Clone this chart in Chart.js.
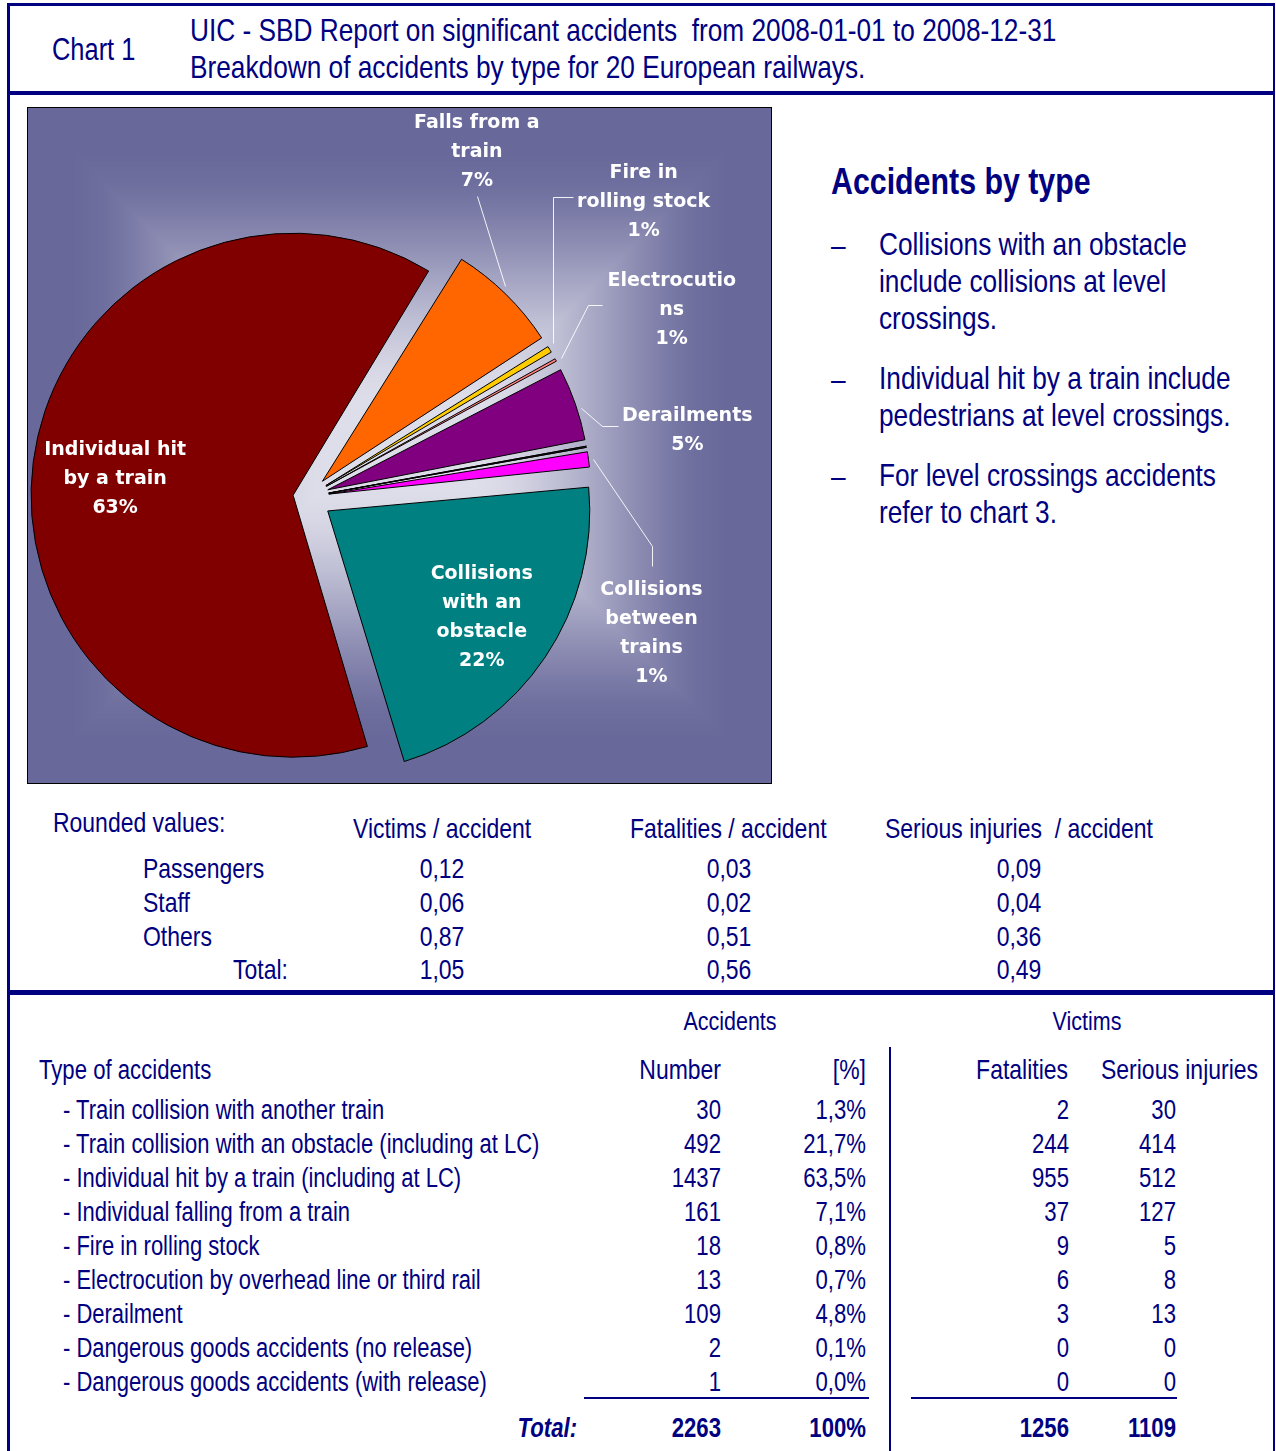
<!DOCTYPE html>
<html lang="en">
<head>
  <meta charset="UTF-8" />
  <title>Chart 1 – Accidents by type, 2008</title>
  <script src="https://cdn.jsdelivr.net/npm/chart.js"></script>
  <style>
    body { margin:0; width:1276px; height:1451px; position:relative; overflow:hidden; background:#fff; color:#000080; }
    .txt { position:absolute; white-space:pre; line-height:1; }
    .bar { position:absolute; background:#000080; }
    #plot { position:absolute; left:27px; top:107px; width:743px; height:675px; border:1px solid #000; }
    #plot canvas { display:block; }
  </style>
</head>
<body>

<div class="bar" style="left:7px;top:3px;width:1268px;height:3px"></div>
<div class="bar" style="left:7px;top:3px;width:3px;height:1448px"></div>
<div class="bar" style="left:1273px;top:3px;width:2px;height:1448px"></div>
<div class="bar" style="left:7px;top:91px;width:1268px;height:4px"></div>
<div class="bar" style="left:7px;top:990px;width:1268px;height:5px"></div>
<div class="bar" style="left:889px;top:1047px;width:2px;height:404px"></div>
<div class="bar" style="left:584px;top:1397px;width:285px;height:2px"></div>
<div class="bar" style="left:911px;top:1397px;width:266px;height:2px"></div>

<div id="plot"><canvas id="pie" width="743" height="675"></canvas></div>

<script>
// pie: accidents by type (same order as the table)
const pieLabels = [
  ['Collisions', 'between', 'trains'],
  ['Collisions', 'with an', 'obstacle'],
  ['Individual hit', 'by a train'],
  ['Falls from a', 'train'],
  ['Fire in', 'rolling stock'],
  ['Electrocutio', 'ns'],
  ['Derailments'],
  [],
  []
];
const accidentTypes = [
  'Train collision with another train',
  'Train collision with an obstacle (including at LC)',
  'Individual hit by a train (including at LC)',
  'Individual falling from a train',
  'Fire in rolling stock',
  'Electrocution by overhead line or third rail',
  'Derailment',
  'Dangerous goods accidents (no release)',
  'Dangerous goods accidents (with release)'
];
const accidentNumbers = [30, 492, 1437, 161, 18, 13, 109, 2, 1];
const accidentPercent = [1.3, 21.7, 63.5, 7.1, 0.8, 0.7, 4.8, 0.1, 0.0];
const fatalities      = [2, 244, 955, 37, 9, 6, 3, 0, 0];
const seriousInjuries = [30, 414, 512, 127, 5, 8, 13, 0, 0];

// rounded values per accident
const roundedGroups   = ['Passengers', 'Staff', 'Others'];
const victimsPerAcc   = [0.12, 0.06, 0.87];
const fatalPerAcc     = [0.03, 0.02, 0.51];
const injuredPerAcc   = [0.09, 0.04, 0.36];
const perAccTotals    = [1.05, 0.56, 0.49];

const notes = [
  ['Collisions with an obstacle', 'include collisions at level', 'crossings.'],
  ['Individual hit by a train include', 'pedestrians at level crossings.'],
  ['For level crossings accidents', 'refer to chart 3.']
];

const sliceColors  = ['#FF00FF', '#008080', '#800000', '#FF6600', '#FFCC00', '#FF8080', '#800080', '#000080', '#333333'];
const sliceOffsets = [88, 100, 56, 88, 88, 88, 88, 88, 88];
const PIE_RADIUS = 262;

// where each pie label sits: inside = relative to slice tip, else relative to arc midpoint
const labelLayout = [
  { dx: 63,   dy: 174,  leader: [[5, 0], [64, 87], [64, 107]] },
  { inside: true, dx: 154, dy: 107 },
  { inside: true, dx: -178, dy: -16 },
  { dx: -29,  dy: -142, leader: [[-1, -8], [-29, -98]] },
  { dx: 94,   dy: -147, leader: [[3, -6], [3, -152], [23, -152]] },
  { dx: 116,  dy: -50,  leader: [[5, -2], [32, -55], [46, -55]] },
  { dx: 112,  dy: 27,   leader: [[6, 4], [27, 22], [43, 22]] },
  null, null
];

// ---- text helpers ----
let narrowOK = true;
(function () {
  const c = document.createElement('canvas').getContext('2d');
  c.font = '40px "Liberation Sans Narrow", monospace';
  const a = c.measureText('Breakdown of accidents').width;
  c.font = '40px monospace';
  const b = c.measureText('Breakdown of accidents').width;
  narrowOK = Math.abs(a - b) > 0.5;
})();

function put(text, x, y, size, align, extra) {
  const d = document.createElement('div');
  d.className = 'txt';
  d.textContent = text;
  d.style.fontFamily = narrowOK ? '"Liberation Sans Narrow", "Arial Narrow", sans-serif' : '"Liberation Sans", Arial, sans-serif';
  d.style.fontSize = size + 'px';
  d.style.top = y + 'px';
  if (align === 'r') { d.style.left = (x - 700) + 'px'; d.style.width = '700px'; d.style.textAlign = 'right'; }
  else if (align === 'c') { d.style.left = (x - 350) + 'px'; d.style.width = '700px'; d.style.textAlign = 'center'; }
  else d.style.left = x + 'px';
  d.style.transformOrigin = (align === 'r' ? 'right' : align === 'c' ? 'center' : 'left') + ' center';
  d.style.transform = narrowOK ? 'translateY(-50%)' : 'translateY(-50%) scaleX(0.82)';
  if (extra) Object.assign(d.style, extra);
  document.body.appendChild(d);
}
const comma = (v, n) => v.toFixed(n).replace('.', ',');
const sum = a => a.reduce((s, v) => s + v, 0);

// header
put('Chart 1', 52, 49, 31);
put('UIC - SBD Report on significant accidents  from 2008-01-01 to 2008-12-31', 190, 30, 32);
put('Breakdown of accidents by type for 20 European railways.', 190, 67, 32);

// notes on the right
put('Accidents by type', 831, 181, 37, 'l', { fontWeight: 'bold' });
let ny = 244;
notes.forEach(lines => {
  put('–', 831, ny + 1, 32);
  lines.forEach((s, k) => put(s, 879, ny + k * 37, 32));
  ny += lines.length * 37 + 23;
});

// rounded values
put('Rounded values:', 53, 823, 28);
put('Victims / accident', 353, 829, 28);
put('Fatalities / accident', 630, 829, 28);
put('Serious injuries  / accident', 885, 829, 28);
roundedGroups.forEach((g, i) => {
  const y = 869 + i * 34;
  put(g, 143, y, 28);
  put(comma(victimsPerAcc[i], 2), 442, y, 28, 'c');
  put(comma(fatalPerAcc[i], 2), 729, y, 28, 'c');
  put(comma(injuredPerAcc[i], 2), 1019, y, 28, 'c');
});
put('Total:', 288, 970, 28, 'r');
perAccTotals.forEach((v, k) => put(comma(v, 2), [442, 729, 1019][k], 970, 28, 'c'));

// table
put('Accidents', 730, 1021, 26.2, 'c');
put('Victims', 1087, 1021, 26.2, 'c');
put('Type of accidents', 39, 1070, 27);
put('Number', 721, 1070, 28, 'r');
put('[%]', 866, 1070, 28, 'r');
put('Fatalities', 1068, 1070, 28, 'r');
put('Serious injuries', 1258, 1070, 28, 'r');
accidentTypes.forEach((t, i) => {
  const y = 1110 + i * 34;
  put('- ' + t, 63, y, 26.8);
  put(String(accidentNumbers[i]), 721, y, 27, 'r');
  put(comma(accidentPercent[i], 1) + '%', 866, y, 27, 'r');
  put(String(fatalities[i]), 1069, y, 27, 'r');
  put(String(seriousInjuries[i]), 1176, y, 27, 'r');
});
const bold = { fontWeight: 'bold' };
put('Total:', 577, 1428, 27, 'r', { fontWeight: 'bold', fontStyle: 'italic' });
put(String(sum(accidentNumbers)), 721, 1428, 27, 'r', bold);
put('100%', 866, 1428, 27, 'r', bold);
put(String(sum(fatalities)), 1069, 1428, 27, 'r', bold);
put(String(sum(seriousInjuries)), 1176, 1428, 27, 'r', bold);

// ---- chart ----
const plotBackground = {
  id: 'plotBackground',
  beforeDraw(chart) {
    const { ctx, width, height } = chart;
    const half = Math.ceil(Math.min(width, height) / 2);
    const edge = [104, 104, 154], mid = [222, 222, 234];
    ctx.save();
    for (let k = 0; k <= half; k++) {
      let t = Math.min(1, Math.max(0, (k - 35) / (half - 70)));
      t = t * t * (3 - 2 * t);
      const c = edge.map((e, j) => Math.round(e + (mid[j] - e) * t));
      ctx.fillStyle = `rgb(${c[0]},${c[1]},${c[2]})`;
      ctx.fillRect(k, k, width - 2 * k, height - 2 * k);
    }
    ctx.restore();
  }
};

// Chart.js grows exploded slices; keep every slice at the same radius
const keepRadius = {
  id: 'keepRadius',
  beforeDatasetsDraw(chart) {
    chart.getDatasetMeta(0).data.forEach(arc => {
      const off = (arc.options.offset || 0) / 4;
      const fix = 1 - Math.sin(Math.min(Math.PI, arc.circumference));
      arc.outerRadius = PIE_RADIUS - off * fix;
    });
  }
};

const total = sum(accidentNumbers);
const sliceLabels = {
  id: 'sliceLabels',
  afterDatasetsDraw(chart) {
    const ctx = chart.ctx;
    ctx.save();
    ctx.font = 'bold 19px "DejaVu Sans", Verdana, sans-serif';
    ctx.fillStyle = '#fff';
    ctx.strokeStyle = 'rgba(255,255,255,0.9)';
    ctx.lineWidth = 1;
    ctx.textAlign = 'center';
    ctx.textBaseline = 'middle';
    chart.getDatasetMeta(0).data.forEach((arc, i) => {
      const L = labelLayout[i];
      if (!L) return;
      const a = (arc.startAngle + arc.endAngle) / 2;
      const t = (arc.options.offset || 0) / 4;
      const tipX = arc.x + Math.cos(a) * t, tipY = arc.y + Math.sin(a) * t;
      const bx = L.inside ? tipX : tipX + Math.cos(a) * PIE_RADIUS;
      const by = L.inside ? tipY : tipY + Math.sin(a) * PIE_RADIUS;
      if (L.leader) {
        ctx.beginPath();
        L.leader.forEach(([dx, dy], k) => {
          const px = Math.round(bx + dx) + 0.5, py = Math.round(by + dy) + 0.5;
          k ? ctx.lineTo(px, py) : ctx.moveTo(px, py);
        });
        ctx.stroke();
      }
      const lines = pieLabels[i].concat(Math.round(accidentNumbers[i] / total * 100) + '%');
      const lh = 29;
      const y0 = by + L.dy - (lines.length - 1) * lh / 2;
      lines.forEach((s, k) => ctx.fillText(s, bx + L.dx, y0 + k * lh));
    });
    ctx.restore();
  }
};

new Chart(document.getElementById('pie'), {
  type: 'pie',
  data: {
    labels: pieLabels.map((l, i) => l.length ? l.join(' ') : accidentTypes[i]),
    datasets: [{
      data: accidentNumbers,
      backgroundColor: sliceColors,
      borderColor: '#000',
      borderWidth: 1,
      offset: sliceOffsets,
      rotation: 80,
      radius: PIE_RADIUS,
      clip: false
    }]
  },
  options: {
    responsive: false,
    animation: false,
    events: [],
    layout: { padding: { left: 0, right: 185, top: 103, bottom: 0 } },
    plugins: { legend: { display: false }, tooltip: { enabled: false } }
  },
  plugins: [plotBackground, keepRadius, sliceLabels]
});
</script>

</body>
</html>
